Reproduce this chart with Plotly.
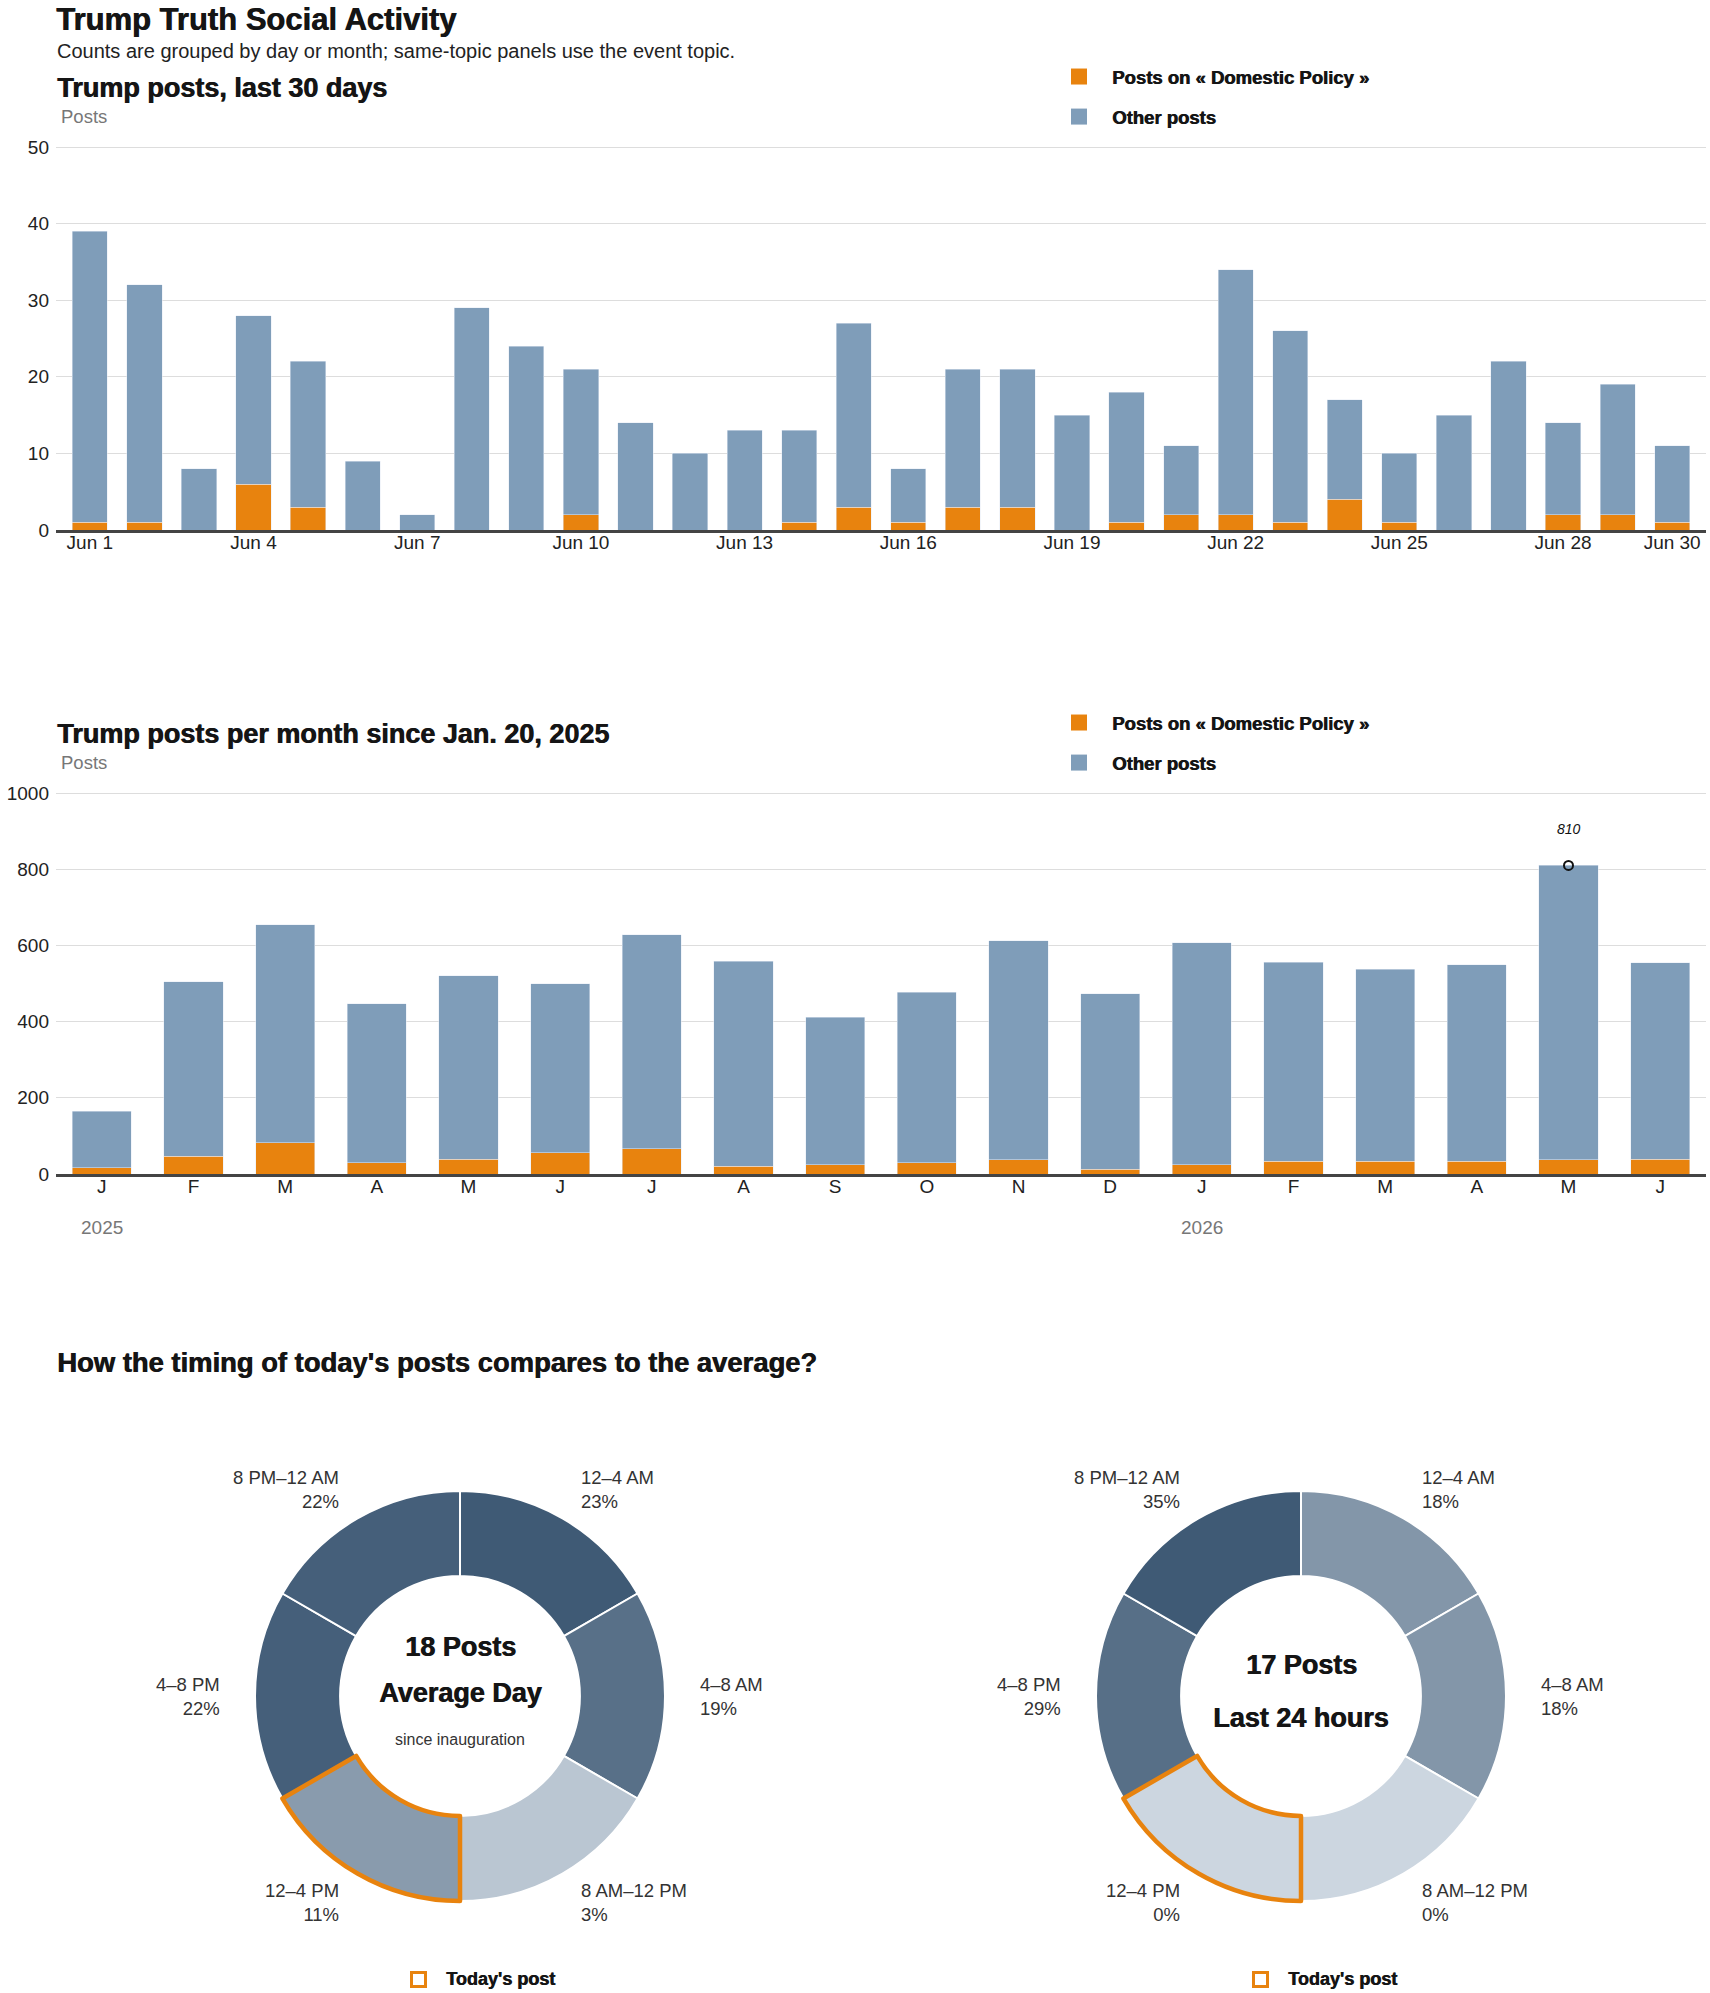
import plotly.graph_objects as go
import math

W, H = 1710, 1993

def fx(px):
    return px / W

def fy(py):
    return 1 - py / H

# ---------------- data ----------------
day_dates = [f"2026-06-{d:02d}" for d in range(1, 31)]
daily_total = [39, 32, 8, 28, 22, 9, 2, 29, 24, 21, 14, 10, 13, 13, 27,
               8, 21, 21, 15, 18, 11, 34, 26, 17, 10, 15, 22, 14, 19, 11]
daily_domestic = [1, 1, 0, 6, 3, 0, 0, 0, 0, 2, 0, 0, 0, 1, 3,
                  1, 3, 3, 0, 1, 2, 2, 1, 4, 1, 0, 0, 2, 2, 1]
daily_other = [t - d for t, d in zip(daily_total, daily_domestic)]
day_tick_vals = ["2026-06-01", "2026-06-04", "2026-06-07", "2026-06-10", "2026-06-13",
                 "2026-06-16", "2026-06-19", "2026-06-22", "2026-06-25", "2026-06-28",
                 "2026-06-30"]
day_tick_text = ["Jun 1", "Jun 4", "Jun 7", "Jun 10", "Jun 13", "Jun 16", "Jun 19",
                 "Jun 22", "Jun 25", "Jun 28", "Jun 30"]

month_keys = ["2025-01", "2025-02", "2025-03", "2025-04", "2025-05", "2025-06",
              "2025-07", "2025-08", "2025-09", "2025-10", "2025-11", "2025-12",
              "2026-01", "2026-02", "2026-03", "2026-04", "2026-05", "2026-06"]
month_letters = ["J", "F", "M", "A", "M", "J", "J", "A", "S", "O", "N", "D",
                 "J", "F", "M", "A", "M", "J"]
monthly_total = [165, 504, 654, 447, 520, 499, 628, 559, 412, 477, 612, 473,
                 607, 556, 538, 549, 810, 554]
monthly_domestic = [17, 47, 82, 30, 39, 56, 66, 21, 24, 30, 38, 13,
                    24, 34, 34, 34, 38, 39]
monthly_other = [t - d for t, d in zip(monthly_total, monthly_domestic)]
year_labels = {"2025-01": "2025", "2026-01": "2026"}

series_names = ["Posts on « Domestic Policy »", "Other posts"]

time_bins = ["12–4 AM", "4–8 AM", "8 AM–12 PM", "12–4 PM", "4–8 PM", "8 PM–12 AM"]
bin_hours = [4, 4, 4, 4, 4, 4]
avg_pct = [23, 19, 3, 11, 22, 22]
today_pct = [18, 18, 0, 0, 29, 35]
avg_posts = 18
today_posts = 17
highlight_bin = "12–4 PM"

# ---------------- styles ----------------
ORANGE = "#e8830e"
BLUE = "#7f9db9"
GRID = "#dddddd"
TXT = "#222222"
HEADC = "#151515"
GRAY = "#777777"
HEAD = "'Liberation Sans', Arial, sans-serif"
BODY = "'Liberation Sans', Arial, sans-serif"
HEAVY = "0.7px 0 0 #151515"

fig = go.Figure()

# chart 1 (daily)
for vals, color, name in [(daily_domestic, ORANGE, series_names[0]),
                          (daily_other, BLUE, series_names[1])]:
    fig.add_trace(go.Bar(x=day_dates, y=vals, name=name, marker_color=color,
                         xaxis="x", yaxis="y", showlegend=False,
                         hovertemplate="%{x|%b %-d}: %{y}<extra>" + name + "</extra>"))
# chart 2 (monthly)
for vals, color, name in [(monthly_domestic, ORANGE, series_names[0]),
                          (monthly_other, BLUE, series_names[1])]:
    fig.add_trace(go.Bar(x=month_keys, y=vals, name=name, marker_color=color,
                         xaxis="x2", yaxis="y2", showlegend=False,
                         hovertemplate="%{x}: %{y}<extra>" + name + "</extra>"))

# legend entries (square swatches)
for leg, xa, ya in [("legend", "x", "y"), ("legend2", "x2", "y2")]:
    for color, name in [(ORANGE, series_names[0]), (BLUE, series_names[1])]:
        fig.add_trace(go.Scatter(x=[None], y=[None], mode="markers", name=name,
                                 marker=dict(symbol="square", size=16, color=color),
                                 xaxis=xa, yaxis=ya, legend=leg,
                                 legendgroup=leg + name, hoverinfo="skip"))

peak_i = max(range(len(monthly_total)), key=lambda i: monthly_total[i])
fig.add_trace(go.Scatter(x=[month_keys[peak_i]], y=[monthly_total[peak_i]], mode="markers",
                         marker=dict(symbol="circle-open", size=9, color="#111",
                                     line=dict(width=2, color="#111")),
                         xaxis="x2", yaxis="y2", showlegend=False, hoverinfo="skip"))

annotations = []
shapes = []

def ann(x, y, text, size, color=TXT, family=BODY, weight="normal", xanchor="left",
        yanchor="middle", align="left", style="normal", shadow="none", **kw):
    d = dict(x=x, y=y, xref=kw.pop("xref", "paper"), yref=kw.pop("yref", "paper"),
             text=text, showarrow=False, xanchor=xanchor, yanchor=yanchor, align=align,
             font=dict(size=size, color=color, family=family, weight=weight, style=style,
                       shadow=shadow))
    d.update(kw)
    annotations.append(d)

def head(x, y, text, size, **kw):
    ann(x, y, text, size, color=HEADC, family=HEAD, weight="bold", shadow=HEAVY, **kw)

head(fx(54), 1, "Trump Truth Social Activity", 31, yanchor="top")
ann(fx(55), fy(51), "Counts are grouped by day or month; same-topic panels use the event topic.", 20)
head(fx(55), fy(88), "Trump posts, last 30 days", 27)
ann(fx(59), fy(116), "Posts", 18.5, color=GRAY)
head(fx(55), fy(734), "Trump posts per month since Jan. 20, 2025", 27)
ann(fx(59), fy(762), "Posts", 18.5, color=GRAY)
head(fx(55), fy(1362), "How the timing of today's posts compares to the average?", 27.4)

ann(month_keys[peak_i], monthly_total[peak_i], str(monthly_total[peak_i]), 14,
    xref="x2", yref="y2", xanchor="center", yanchor="bottom", yshift=26, style="italic",
    color="#111")
for key, yr in year_labels.items():
    ann(key, fy(1227), yr, 19, color=GRAY, xref="x2", xanchor="center")

# ---------------- donuts ----------------
LIGHT = (204, 214, 224)
DARK = (63, 90, 117)

def shade(p, pmax):
    t = p / pmax if pmax else 0
    c = [round(LIGHT[k] + (DARK[k] - LIGHT[k]) * t) for k in range(3)]
    return "rgb(%d,%d,%d)" % tuple(c)

R_OUT = 205
donuts = [
    (460, avg_pct, [f"{avg_posts} Posts", "Average Day"], "since inauguration", 410),
    (1301, today_pct, [f"{today_posts} Posts", "Last 24 hours"], None, 1252),
]
CY = 1696
for cx, pct, center_lines, sub, leg_x in donuts:
    dom = dict(x=[fx(cx - R_OUT), fx(cx + R_OUT)], y=[fy(CY + R_OUT), fy(CY - R_OUT)])
    pmax = max(pct)
    fig.add_trace(go.Pie(values=bin_hours, labels=time_bins, domain=dom, hole=0.585,
                         sort=False, direction="clockwise", rotation=0,
                         marker=dict(colors=[shade(p, pmax) for p in pct],
                                     line=dict(color="white", width=2)),
                         textinfo="none", showlegend=False,
                         customdata=pct, hovertemplate="%{label}: %{customdata}%<extra></extra>"))
    fig.add_trace(go.Pie(values=bin_hours, labels=time_bins, domain=dom, hole=0.585,
                         sort=False, direction="clockwise", rotation=0,
                         marker=dict(colors=["rgba(0,0,0,0)"] * len(time_bins),
                                     line=dict(color=[ORANGE if b == highlight_bin else "rgba(0,0,0,0)" for b in time_bins],
                                               width=[4.5 if b == highlight_bin else 0 for b in time_bins])),
                         textinfo="none", showlegend=False, hoverinfo="skip"))
    # slice labels
    for i, (b, p) in enumerate(zip(time_bins, pct)):
        a = math.radians(30 + 60 * i)
        dx, dy = 238 * math.sin(a), -238 * math.cos(a)
        right = dx > 0
        ann(fx(cx + dx), fy(CY + dy), f"{b}<br>{p}%", 18.5, color="#333",
            xanchor="left" if right else "right", align="left" if right else "right")
    # center text
    if sub:
        head(fx(cx), fy(1647), center_lines[0], 27, xanchor="center")
        head(fx(cx), fy(1693), center_lines[1], 27, xanchor="center")
        ann(fx(cx), fy(1739), sub, 16, color="#333", xanchor="center")
    else:
        head(fx(cx), fy(1665), center_lines[0], 27, xanchor="center")
        head(fx(cx), fy(1718), center_lines[1], 27, xanchor="center")
    # legend "Today's post"
    shapes.append(dict(type="rect", xref="paper", yref="paper",
                       x0=fx(leg_x + 1.5), x1=fx(leg_x + 15.5), y0=fy(1986.5), y1=fy(1972.5),
                       line=dict(color=ORANGE, width=3), fillcolor="rgba(0,0,0,0)"))
    head(fx(leg_x + 34), fy(1979), "Today's post", 18)

axis_common = dict(showgrid=False, zeroline=False, showline=True, linecolor="#444",
                   linewidth=2.5, ticks="", tickfont=dict(size=19, color=TXT, family=BODY),
                   ticklabelstandoff=-7, fixedrange=True)
yaxis_common = dict(showgrid=True, gridcolor=GRID, gridwidth=1, zeroline=False,
                    showline=False, ticks="", tickfont=dict(size=19, color=TXT, family=BODY),
                    ticklabelstandoff=6, fixedrange=True)

legend_common = dict(font=dict(size=18.5, color=HEADC, family=HEAD, weight="bold",
                               shadow=HEAVY),
                     xanchor="left", yanchor="top", bgcolor="rgba(0,0,0,0)",
                     tracegroupgap=13, traceorder="grouped", itemclick=False,
                     itemdoubleclick=False, itemwidth=56, itemsizing="trace")

# y ranges extend a little past the last tick so the top gridline is drawn
Y1_MAX, Y2_MAX = 51, 1020
Y1_TOP = 530 - (530 - 147) * Y1_MAX / 50
Y2_TOP = 1174 - (1174 - 793) * Y2_MAX / 1000

fig.update_layout(
    width=W, height=H, margin=dict(l=0, r=0, t=0, b=0, autoexpand=False),
    paper_bgcolor="white", plot_bgcolor="white",
    barmode="stack", bargap=0.355,
    showlegend=True,
    xaxis=dict(axis_common, domain=[fx(56), fx(1706)], type="date",
               range=["2026-05-31 09:07", "2026-06-30 14:53"],
               tickvals=day_tick_vals, ticktext=day_tick_text, anchor="y"),
    yaxis=dict(yaxis_common, domain=[fy(530), fy(Y1_TOP)], range=[0, Y1_MAX],
               tickvals=[0, 10, 20, 30, 40, 50], anchor="x"),
    xaxis2=dict(axis_common, domain=[fx(56), fx(1706)], type="category",
                range=[-0.5, len(month_keys) - 0.5],
                tickvals=month_keys, ticktext=month_letters, anchor="y2"),
    yaxis2=dict(yaxis_common, domain=[fy(1174), fy(Y2_TOP)], range=[0, Y2_MAX],
                tickvals=[0, 200, 400, 600, 800, 1000], anchor="x2"),
    legend=dict(legend_common, x=fx(1046), y=fy(58)),
    legend2=dict(legend_common, x=fx(1046), y=fy(704)),
    annotations=annotations,
    shapes=shapes,
)

fig.write_html("out.html")
